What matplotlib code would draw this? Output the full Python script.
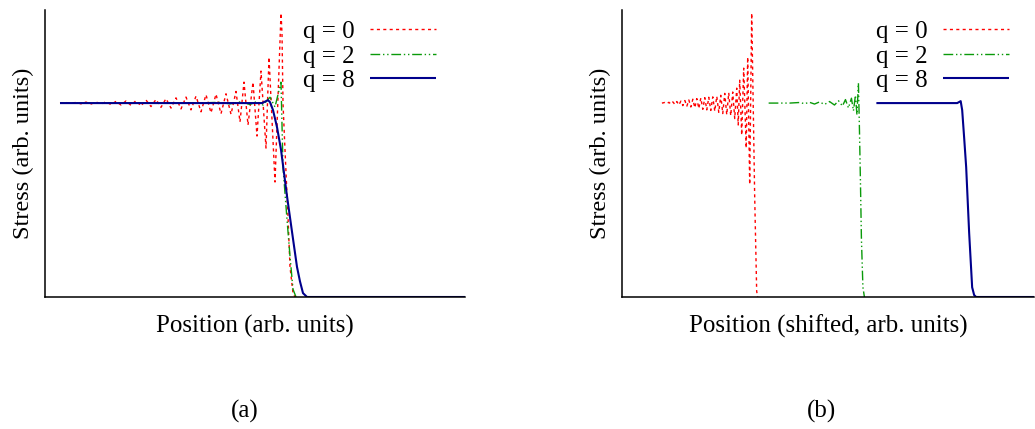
import matplotlib
matplotlib.use("Agg")
import matplotlib.pyplot as plt

plt.rcParams['font.family'] = ['Liberation Serif', 'DejaVu Serif']

# ---------------- data (arbitrary units; plateau stress = 1) ----------------
# Panel (a): absolute positions
red_a_x = [15, 21, 26, 31, 36, 41, 46, 51, 56, 61, 66, 71, 76, 81, 86, 91, 96, 101,
           106, 111, 116, 121, 126, 131, 136, 141, 146, 151, 156, 161, 166, 171, 176,
           181, 186, 191, 195, 199, 203, 208, 212, 216, 221, 224, 230, 236, 237, 238,
           240, 243, 245, 248, 250]
red_a_y = [1.000, 1.003, 0.997, 1.004, 0.996, 1.005, 0.995, 1.006, 0.994, 1.007, 0.992,
           1.009, 0.990, 1.011, 0.988, 1.013, 0.985, 1.016, 0.982, 1.019, 0.978, 1.023,
           0.974, 1.027, 0.970, 1.031, 0.965, 1.036, 0.955, 1.043, 0.950, 1.046, 0.945,
           1.048, 0.942, 1.060, 0.903, 1.108, 0.887, 1.108, 0.830, 1.165, 0.768, 1.237,
           0.593, 1.464, 1.360, 1.000, 0.758, 0.412, 0.155, 0.020, 0.000]

green_a_x = [15, 150, 175, 185, 195, 205, 212, 218, 225, 230, 236, 238, 242, 245, 248, 251]
green_a_y = [1.000, 1.000, 1.004, 0.996, 1.006, 0.993, 1.008, 0.990, 1.030, 0.980, 1.108,
             0.670, 0.400, 0.210, 0.040, 0.000]

blue_a_x = [15, 217, 221, 223, 225, 228, 232, 236, 239, 242, 245, 248, 252, 255, 258, 262, 420]
blue_a_y = [1.000, 1.000, 1.010, 1.015, 1.005, 0.964, 0.876, 0.760, 0.640, 0.520, 0.410,
            0.300, 0.155, 0.080, 0.020, 0.000, 0.000]

# Panel (b): shifted positions
red_b_x = [40, 43, 45, 47, 49, 51, 53, 55, 57, 59, 61, 63, 65, 67, 69, 71, 73, 75, 77, 79,
           81, 83, 85, 87, 89, 91, 93, 95, 97, 99, 101, 103, 105, 107, 109, 111, 113, 115,
           116.5, 118, 120, 122, 124.5, 126, 128, 130, 131.5, 133, 135, 136]
red_b_y = [1.000, 1.003, 0.997, 1.004, 0.995, 1.006, 0.993, 1.008, 0.990, 1.010,
           0.987, 1.013, 0.984, 1.016, 0.980, 1.020, 0.976, 1.023, 0.972, 1.026,
           0.968, 1.028, 0.965, 1.030, 0.962, 1.032, 0.958, 1.035, 0.952, 1.040,
           0.946, 1.050, 0.940, 1.053, 0.935, 1.057, 0.920, 1.077,
           0.887, 1.118, 0.835, 1.180, 0.768, 1.237, 0.580, 1.464, 1.000, 0.520,
           0.030, 0.000]

green_b_x = [147, 168, 178, 183, 188, 193, 198, 203, 208, 213, 217, 221, 224, 227, 230,
             232, 234, 235.5, 237, 238, 239, 240, 241.5, 243]
green_b_y = [1.000, 1.000, 1.003, 0.997, 1.004, 0.995, 1.006, 0.993, 1.008, 0.990, 1.012,
             0.985, 1.018, 0.975, 1.025, 0.960, 1.040, 0.940, 1.103, 0.870, 0.600, 0.300,
             0.050, 0.000]

blue_b_x = [255, 336, 339.5, 341, 343, 345, 348, 351, 353, 355, 413]
blue_b_y = [1.000, 1.000, 1.010, 0.964, 0.820, 0.670, 0.330, 0.050, 0.010, 0.000, 0.000]

labels = ["q = 0", "q = 2", "q = 8"]
xlabels = ["Position (arb. units)", "Position (shifted, arb. units)"]
ylabel = "Stress (arb. units)"
captions = ["(a)", "(b)"]

# ---------------- styles ----------------
RED = '#ff0000'
GREEN = '#0a9a0a'
BLUE = '#00008c'
styles = [
    dict(color=RED, lw=1.0, ls=(0, (2.2, 2.4))),
    dict(color=GREEN, lw=1.0, ls=(0, (7, 2, 1, 2, 1, 2))),
    dict(color=BLUE, lw=1.5, ls='-'),
]

W, H = 1035, 429
fig = plt.figure(figsize=(W / 100, H / 100), dpi=100)

def axbox(x0, x1, y0, y1):
    return [x0 / W, 1 - y1 / H, (x1 - x0) / W, (y1 - y0) / H]

ax1 = fig.add_axes(axbox(45, 465, 10, 297))
ax2 = fig.add_axes(axbox(622, 1034, 10, 297))

panels = [
    (ax1, [(red_a_x, red_a_y), (green_a_x, green_a_y), (blue_a_x, blue_a_y)], 420, 0.931),
    (ax2, [(red_b_x, red_b_y), (green_b_x, green_b_y), (blue_b_x, blue_b_y)], 413, 0.940),
]

FS = 18
for i, (ax, series, xmax, legx) in enumerate(panels):
    for (xs, ys), st, lab in zip(series, styles, labels):
        ax.plot(xs, ys, label=lab, solid_capstyle='butt', dash_capstyle='butt', **st)
    ax.set_xlim(0, xmax)
    ax.set_ylim(0, 1.48)
    for s in ['top', 'right']:
        ax.spines[s].set_visible(False)
    for s in ['left', 'bottom']:
        ax.spines[s].set_linewidth(1.1)
        ax.spines[s].set_color('black')
    ax.set_xticks([])
    ax.set_yticks([])
    ax.set_xlabel(xlabels[i], fontsize=18, labelpad=13)
    ax.set_ylabel(ylabel, fontsize=17.5, labelpad=8)
    ax.legend(loc='upper right', bbox_to_anchor=(legx, 0.963), frameon=False,
              markerfirst=False, fontsize=FS, handlelength=2.65, handletextpad=0.62,
              labelspacing=0.08, borderpad=0, borderaxespad=0)
    ax.set_zorder(1)

fig.text(245 / W, 1 - 411 / H, captions[0], fontsize=18, ha='center', va='center')
fig.text(822 / W, 1 - 411 / H, captions[1], fontsize=18, ha='center', va='center')

fig.savefig("out.png", dpi=100)
